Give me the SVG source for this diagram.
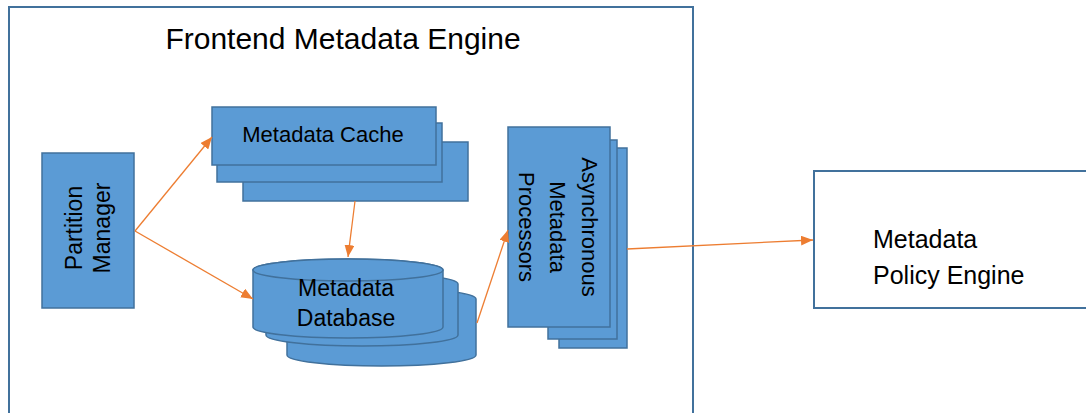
<svg xmlns="http://www.w3.org/2000/svg" width="1086" height="413" viewBox="0 0 1086 413">
<style>
.box{fill:#5B9BD5;stroke:#41719C;stroke-width:1.5}
.frame{fill:#FFFFFF;stroke:#41719C;stroke-width:2}
.lbl{font-family:"Liberation Sans",Arial,sans-serif;fill:#000000}
.conn{stroke:#ED7D31;stroke-width:1.3;fill:none;marker-end:url(#ah)}
</style>
<defs>
<marker id="ah" markerUnits="userSpaceOnUse" markerWidth="12" markerHeight="10" refX="12" refY="5" orient="auto">
<path d="M0,0 L12,5 L0,10 Z" fill="#ED7D31"/>
</marker>
</defs>
<rect width="1086" height="413" fill="#FFFFFF"/>
<g id="frontend-engine">
<rect class="frame" x="9" y="7" width="684" height="430"/>
<text class="lbl" x="343" y="49" font-size="30" text-anchor="middle">Frontend Metadata Engine</text>
</g>
<g id="partition-manager">
<rect class="box" x="42" y="153" width="92" height="155"/>
<g transform="translate(88,228) rotate(-90)">
<text class="lbl" x="0" y="-6" font-size="23" text-anchor="middle">Partition</text>
<text class="lbl" x="0" y="22" font-size="23" text-anchor="middle">Manager</text>
</g>
</g>
<g id="metadata-cache">
<rect class="box" x="243" y="142" width="225" height="59"/>
<rect class="box" x="217" y="123" width="225" height="59"/>
<rect class="box" x="212" y="107" width="224" height="58"/>
<text class="lbl" x="323" y="142" font-size="22" text-anchor="middle">Metadata Cache</text>
</g>
<g id="metadata-database">
<path class="box" d="M287,299 L287,355 A94.5,11 0 0 0 476,355 L476,299 A94.5,11 0 0 0 287,299 Z"/>
<path class="box" d="M266,284 L266,335 A96,11 0 0 0 458,335 L458,284 A96,11 0 0 0 266,284 Z"/>
<path class="box" d="M253,270 L253,327 A95,11 0 0 0 443,327 L443,270 A95,11 0 0 0 253,270 Z"/>
<ellipse class="box" cx="348" cy="270" rx="95" ry="11"/>
<text class="lbl" x="346" y="296" font-size="23" text-anchor="middle">Metadata</text>
<text class="lbl" x="346" y="326" font-size="23" text-anchor="middle">Database</text>
</g>
<g id="async-processors">
<rect class="box" x="559" y="148" width="68" height="200"/>
<rect class="box" x="548" y="140" width="69" height="199"/>
<rect class="box" x="508" y="127" width="102" height="200"/>
<g transform="translate(555,227) rotate(90)">
<text class="lbl" x="0" y="-27" font-size="22" text-anchor="middle">Asynchronous</text>
<text class="lbl" x="0" y="5" font-size="22" text-anchor="middle">Metadata</text>
<text class="lbl" x="0" y="36" font-size="22" text-anchor="middle">Processors</text>
</g>
</g>
<g id="policy-engine">
<rect x="814" y="171" width="300" height="137" fill="#FFFFFF" stroke="#41719C" stroke-width="2"/>
<text class="lbl" x="873" y="248" font-size="25">Metadata</text>
<text class="lbl" x="873" y="284" font-size="25">Policy Engine</text>
</g>
<g id="connectors">
<line class="conn" x1="135" y1="231" x2="212" y2="137"/>
<line class="conn" x1="135" y1="231" x2="253" y2="299"/>
<line class="conn" x1="355" y1="201" x2="348" y2="257"/>
<line class="conn" x1="477" y1="323" x2="508" y2="230"/>
<line class="conn" x1="627" y1="249" x2="813" y2="240"/>
</g>
</svg>
